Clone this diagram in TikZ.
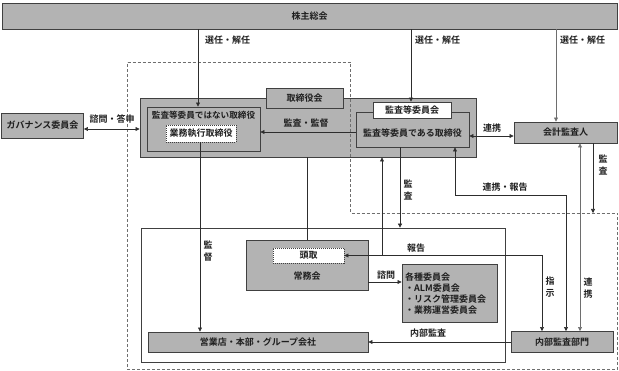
\documentclass[tikz,border=0pt]{standalone}
\usepackage{fontspec}
\setmainfont{Noto Sans CJK JP}[BoldFont={* Bold}]
\usetikzlibrary{arrows.meta}
\definecolor{boxgray}{RGB}{179,179,179}
\definecolor{edge}{RGB}{64,64,64}
\definecolor{txt}{RGB}{30,30,30}
\definecolor{lnc}{RGB}{45,45,45}
\definecolor{lnl}{RGB}{110,110,110}
\begin{document}
\begin{tikzpicture}[x=1pt,y=-1pt,
  font=\bfseries\fontsize{9}{11}\selectfont, text=txt,
  gbox/.style={draw=edge, fill=boxgray, line width=0.9pt, inner sep=0pt},
  wbox/.style={draw=edge, fill=white, line width=0.8pt, inner sep=0pt},
  dotbox/.style={draw=edge, fill=white, line width=0.9pt, dash pattern=on 1pt off 1pt, inner sep=0pt},
  ln/.style={draw=lnc, line width=0.7pt},
  arr/.style={ln, -{Triangle[length=4pt,width=4pt]}},
  arrtwo/.style={ln, {Triangle[length=4pt,width=4pt]}-{Triangle[length=4pt,width=4pt]}},
  lbl/.style={inner sep=0pt, align=center},
  vlbl/.style={inner sep=0pt, align=center, font=\bfseries\fontsize{9}{12}\selectfont}
]
\useasboundingbox (0,0) rectangle (619,371);

% boxes
\node[gbox, minimum width=615pt, minimum height=26pt] (sh) at (309.5,16) {株主総会};
\node[gbox, minimum width=82pt, minimum height=25pt] (gov) at (42.5,125.5) {ガバナンス委員会};
\node[gbox, minimum width=336pt, minimum height=59pt] (board) at (308,127.5) {};
\node[gbox, minimum width=77pt, minimum height=20pt] (boardtab) at (304.5,98) {取締役会};
\node[gbox, minimum width=113pt, minimum height=44pt] (nonaud) at (203.5,129) {};
\node[lbl, font=\bfseries\fontsize{8.6}{11}\selectfont] (nonaudtxt) at (203.5,115.5) {監査等委員ではない取締役};
\node[dotbox, minimum width=70pt, minimum height=17pt] (exec) at (201,133.5) {業務執行取締役};
\node[gbox, minimum width=113pt, minimum height=35pt] (aud) at (412.5,129.5) {};
\node[lbl] (audtxt) at (412.5,133) {監査等委員である取締役};
\node[wbox, minimum width=78pt, minimum height=16pt] (audcomm) at (412,110) {監査等委員会};
\node[gbox, minimum width=103pt, minimum height=21pt] (acct) at (565.5,132.5) {会計監査人};

\node[draw=edge, line width=0.7pt, minimum width=364pt, minimum height=134pt, inner sep=0pt] (ea) at (323,295) {};
\node[gbox, minimum width=122pt, minimum height=50pt] (jomu) at (307,265) {};
\node[lbl] (jomutxt) at (307,276) {常務会};
\node[dotbox, minimum width=71pt, minimum height=15pt] (tori) at (308.5,255.5) {頭取};
\node[gbox, minimum width=95pt, minimum height=58pt] (comm) at (449.5,293) {};
\node[lbl, align=left, anchor=west] (commtxt) at (405,293.5) {各種委員会\\・ALM委員会\\・リスク管理委員会\\・業務運営委員会};
\node[gbox, minimum width=220pt, minimum height=20pt] (branch) at (258,342) {営業店・本部・グループ会社};
\node[gbox, minimum width=102pt, minimum height=21pt] (ia) at (562,342) {内部監査部門};

% dashed region
\coordinate (d1) at (127.5,62);
\coordinate (d2) at (350,62);
\coordinate (d3) at (350,213);
\coordinate (d4) at (617.5,213);
\coordinate (d5) at (617.5,369.5);
\coordinate (d6) at (127.5,369.5);
\draw[draw=lnl, line width=0.8pt, dash pattern=on 3pt off 2pt] (d1) -- (d2) -- (d3) -- (d4) -- (d5) -- (d6) -- cycle;

% 選任・解任
\coordinate (p1) at ([xshift=-5.5pt]nonaud.north);
\draw[arr] (p1 |- sh.south) -- (p1);
\node[lbl, anchor=west] (l1) at (205,40) {選任・解任};
\coordinate (p2) at ([xshift=-1pt]audcomm.north);
\draw[arr] (p2 |- sh.south) -- (p2);
\node[lbl, anchor=west] (l2) at (415,40) {選任・解任};
\coordinate (p3) at ([xshift=-9.5pt]acct.north);
\draw[arr, draw=lnl] (p3 |- sh.south) -- (p3);
\node[lbl, anchor=west] (l3) at (560,40) {選任・解任};

% 諮問・答申
\coordinate (g1) at ([yshift=-3.5pt]gov.east);
\draw[arrtwo] (g1) -- (g1 -| board.west);
\node[lbl] (l4) at (112,119) {諮問・答申};

% 監査・監督
\coordinate (e2) at ([yshift=-2.5pt]aud.west);
\draw[arr] (e2) -- (e2 -| nonaud.east);
\node[lbl] (l5) at (306,123.5) {監査・監督};

% 連携 (aud - acct)
\coordinate (e1) at ([yshift=-6.5pt]aud.east);
\draw[arrtwo] (e1) -- (e1 -| acct.west);
\node[lbl] (l6) at (492,128) {連携};

% 監督
\coordinate (k1) at ([xshift=-1pt]exec.south);
\draw[arr] (k1) -- (k1 |- branch.north);
\node[vlbl] (l7) at (208,251) {監\\督};

% board - jomu
\draw[ln] (jomu.north) -- (jomu.north |- board.south);

% 監査 (aud -> exec area)
\coordinate (a1) at ([xshift=-12.5pt]aud.south);
\draw[arr] (a1) -- (a1 |- ea.north);
\node[vlbl] (l8) at (408,190) {監\\査};

% 報告 / 指示
\coordinate (ia1) at ([xshift=-20pt]ia.north);
\draw[arrtwo] (tori.east) -- (tori.east -| ia1) -- (ia1);
\coordinate (r1) at ([xshift=74pt]board.south);
\draw[arr] (r1 |- tori.east) -- (r1);
\node[lbl] (l9) at (416,248) {報告};
\node[vlbl] (l10) at (550,287) {指\\示};

% 連携・報告
\coordinate (a2) at ([xshift=42.5pt]aud.south);
\coordinate (ia2) at ([xshift=4pt]ia.north);
\draw[arrtwo] (a2) -- ++(0,48) -| (ia2);
\node[lbl] (l11) at (505,187) {連携・報告};

% 連携 (acct - ia)
\coordinate (c1) at ([xshift=14.5pt]acct.south);
\draw[arrtwo, draw=lnl] (c1) -- (c1 |- ia.north);
\node[vlbl] (l12) at (588,288) {連\\携};

% 監査 (acct)
\coordinate (c2) at ([xshift=27.5pt]acct.south);
\draw[arr] (c2) -- (c2 |- d4);
\node[vlbl] (l13) at (603,165) {監\\査};

% 諮問
\coordinate (s1) at ([yshift=-17pt]jomu.east);
\draw[arr] (s1) -- (s1 -| comm.west);
\node[lbl] (l14) at (386,275) {諮問};

% 内部監査
\draw[arr] (ia.west) -- (ia.west -| branch.east);
\node[lbl] (l15) at (428,333.5) {内部監査};
\end{tikzpicture}
\end{document}
